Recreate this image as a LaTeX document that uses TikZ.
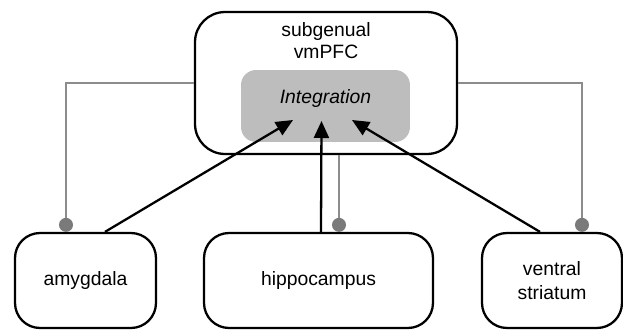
\documentclass[tikz,border=0pt]{standalone}
\usepackage{fontspec}
\setmainfont{Liberation Sans}
\usetikzlibrary{positioning,calc,arrows.meta}
\tikzset{region/.style={draw, line width=1.3pt, rounded corners=0.5cm, align=center, font=\fontsize{11}{13.5}\selectfont}}
\tikzset{integ/.style={fill=black!26, rounded corners=0.3cm, draw=none}}
\tikzset{arr/.style={draw, line width=1.3pt, -{Triangle[length=0.34cm,width=0.3cm]}}}
\tikzset{inhib/.style={draw=black!45, line width=1.1pt, -{Circle[length=0.28cm,color=black!52,fill=black!52]}}}
\begin{document}
\begin{tikzpicture}[x=0.02cm, y=-0.02cm]
	\useasboundingbox (0,0) rectangle (623,329);
	\node[region, rounded corners=0.6cm, minimum width=5.24cm, minimum height=2.84cm,
		label={[anchor=north, align=center, yshift=-0.1cm, font=\fontsize{11}{13}\selectfont]north:subgenual\\vmPFC}] (pfc) at (326,83) {};
	\node[integ, minimum width=3.38cm, minimum height=1.44cm,
		label={[yshift=0.16cm, font=\fontsize{11}{13}\selectfont\itshape]center:Integration}] (int) at (325.5,106) {};
%
	\node[region, minimum width=2.82cm, minimum height=1.9cm] (amy) at (85.5,280.5) {amygdala};
	\node[region, minimum width=4.58cm, minimum height=1.9cm] (hip) at (318.5,280.5) {hippocampus};
	\node[region, minimum width=2.8cm, minimum height=1.9cm] (vs) at (552,280.5) {ventral\\striatum};
%
	\draw[inhib] (pfc.west) -| ($(amy.north)+(-19.5,0)$);
	\draw[inhib] (pfc.east) -| ($(vs.north)+(30,0)$);
	\draw[inhib] ($(pfc.south)+(13,0)$) -- ($(hip.north)+(20.5,0)$);
%
	\draw[arr] ($(amy.north)+(19.5,0)$) -- ($(int.center)+(-32.5,14)$);
	\draw[arr] ($(hip.north)+(2.5,0)$) -- ($(int.center)+(-4,15)$);
	\draw[arr] ($(vs.north)+(-12,0)$) -- ($(int.center)+(26.5,14)$);
\end{tikzpicture}
\end{document}
